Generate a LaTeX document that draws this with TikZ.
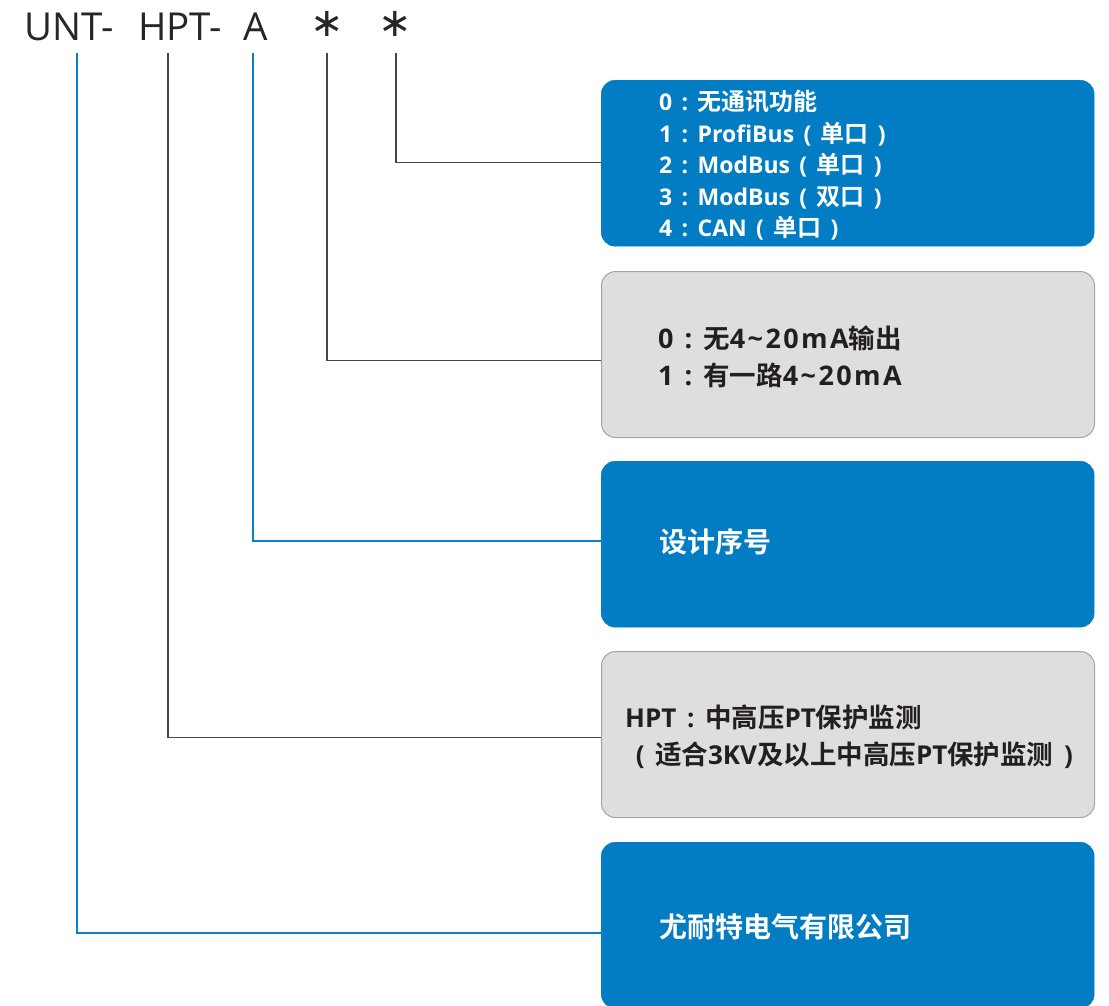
\documentclass[tikz,border=0pt]{standalone}
\usepackage{fontspec}
\newfontfamily\cjkb[BoldFont={Noto Sans CJK SC Bold}]{Noto Sans CJK SC}
\newfontfamily\latf{Open Sans}
\newfontfamily\latw[LetterSpace=9]{Open Sans}
\newfontfamily\hdr{Open Sans}
\newfontfamily\dvs{DejaVu Sans}
\def\lsz{24}
\let\latcur\latf
\newcommand\lat[1]{{\latcur\bfseries\fontsize{\lsz}{\lsz}\selectfont #1}}
\newcommand\fc{\lat{\makebox[1.1em][c]{:}}}
\newcommand\lp{\lat{\makebox[1.15em][c]{(}}}
\newcommand\rp{\lat{\makebox[1.15em][c]{)}}}
\definecolor{boxblue}{RGB}{2,124,195}
\definecolor{linkblue}{RGB}{10,128,205}
\definecolor{boxgray}{RGB}{222,222,222}
\definecolor{edgegray}{RGB}{165,165,165}
\definecolor{linkgray}{RGB}{70,70,70}
\definecolor{txtdark}{RGB}{35,31,32}
\begin{document}
\begin{tikzpicture}[x=1pt,y=-1pt,
  bluebox/.style={draw=boxblue,fill=boxblue,rounded corners=14pt,minimum width=493pt,minimum height=166pt,anchor=north west,inner sep=0pt},
  graybox/.style={draw=edgegray,line width=1pt,fill=boxgray,rounded corners=14pt,minimum width=493pt,minimum height=166pt,anchor=north west,inner sep=0pt},
  hdrtext/.style={font={\hdr\fontsize{38.5}{38.5}\selectfont},text=black!85,inner sep=0pt},
  startext/.style={font={\dvs\fontsize{40}{40}\selectfont},text=black!85,inner sep=0pt},
  wtext/.style={font={\def\lsz{23}\cjkb\bfseries\fontsize{24}{31.6}\selectfont},text=white,align=left,anchor=west,inner sep=0pt},
  dtext/.style={font={\def\lsz{27}\let\latcur\latw\cjkb\bfseries\fontsize{26.5}{37}\selectfont},text=txtdark,align=left,anchor=west,inner sep=0pt},
  dtextb/.style={font={\def\lsz{26}\cjkb\bfseries\fontsize{26.5}{37}\selectfont},text=txtdark,align=left,anchor=west,inner sep=0pt},
  wbig/.style={font={\cjkb\bfseries\fontsize{28}{30}\selectfont},text=white,anchor=west,inner sep=0pt},
  bluelink/.style={draw=linkblue,line width=1.8pt},
  graylink/.style={draw=linkgray,line width=1.3pt}]
\useasboundingbox (0,0) rectangle (1109,1005);
% header
\node[hdrtext,anchor=base west] (hUNT) at (24,40) {UNT-};
\node[hdrtext,anchor=base west] (hHPT) at (138,40) {HPT-};
\node[hdrtext,anchor=base] (hA) at (256,40) {A};
\node[startext,anchor=base] (hS1) at (327,36) {∗};
\node[startext,anchor=base] (hS2) at (395,36) {∗};
% tops of connectors
\coordinate (cUNT) at (77,53);
\coordinate (cHPT) at (168,53);
\coordinate (cA) at (253,53);
\coordinate (cS1) at (327,53);
\coordinate (cS2) at (396,53);
% boxes
\node[bluebox] (b1) at (601,80) {};
\node[graybox] (b2) at (601,271) {};
\node[bluebox] (b3) at (601,461) {};
\node[graybox] (b4) at (601,651) {};
\node[bluebox] (b5) at (601,842) {};
% texts
\node[wtext] (t1) at ([xshift=58pt,yshift=-2pt]b1.west) {\lat{0}\fc 无通讯功能\\\lat{1}\fc\lat{ProfiBus}\lp 单口\rp\\\lat{2}\fc\lat{ModBus}\lp 单口\rp\\\lat{3}\fc\lat{ModBus}\lp 双口\rp\\\lat{4}\fc\lat{CAN}\lp 单口\rp};
\node[dtext] (t2) at ([xshift=57pt,yshift=-2.5pt]b2.west) {\lat{0}\fc 无\lat{4\textasciitilde20mA}输出\\\lat{1}\fc 有一路\lat{4\textasciitilde20mA}};
\node[wbig] (t3) at ([xshift=58pt,yshift=2.5pt]b3.west) {设计序号};
\node[dtextb] (t4) at ([xshift=24pt,yshift=-2.5pt]b4.west) {\lat{HPT}\fc 中高压\lat{PT}保护监测\\\lp 适合\lat{3KV}及以上中高压\lat{PT}保护监测\rp};
\node[wbig] (t5) at ([xshift=58pt,yshift=-2pt]b5.west) {尤耐特电气有限公司};
% connectors
\draw[graylink] (cS2) |- ([yshift=1pt]b1.west);
\draw[graylink] (cS1) |- ([yshift=-6pt]b2.west);
\draw[bluelink] (cA) |- ([yshift=3pt]b3.west);
\draw[graylink] (cHPT) |- ([yshift=-3pt]b4.west);
\draw[bluelink] (cUNT) |- ([yshift=-8pt]b5.west);
\end{tikzpicture}
\end{document}
